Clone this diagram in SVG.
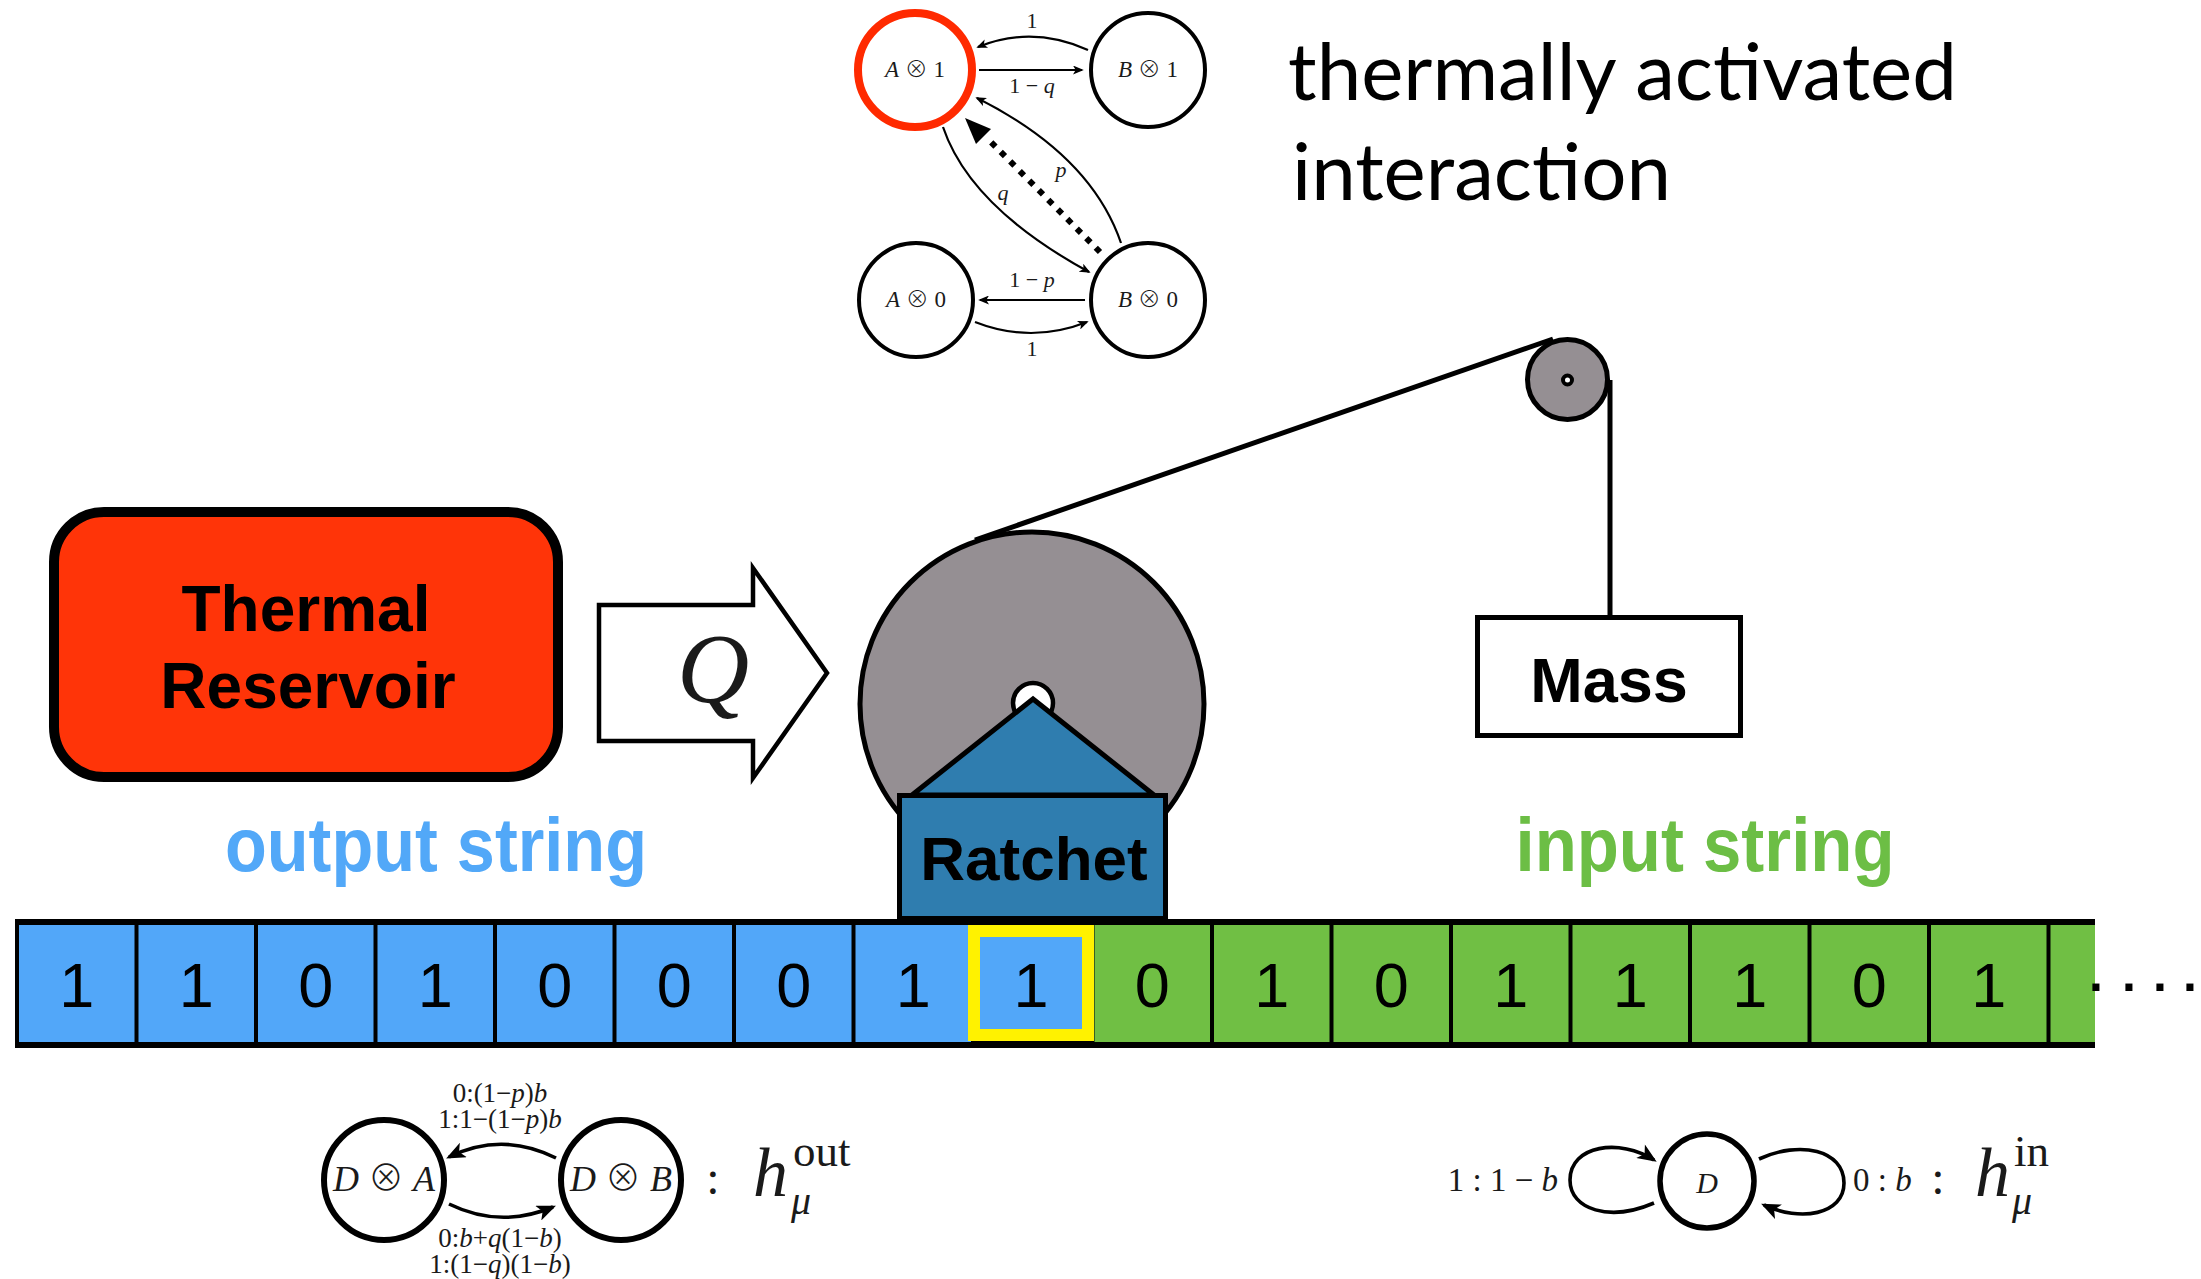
<svg xmlns="http://www.w3.org/2000/svg" width="2201" height="1279" viewBox="0 0 2201 1279">
<defs>
<style>
.math{font-family:"Liberation Serif","DejaVu Serif",serif;fill:#1a1a1a}
.it{font-style:italic}
.op{font-family:"Noto Sans CJK JP","DejaVu Sans",sans-serif;font-weight:300;font-style:normal}
.bold{font-family:"Liberation Sans",Arial,sans-serif;font-weight:bold;fill:#000}
.state{fill:#fff;stroke:#000;stroke-width:4}
.edge{fill:none;stroke:#000;stroke-width:2.2}
.edge2{fill:none;stroke:#000;stroke-width:3.6}
.big{fill:#fff;stroke:#000;stroke-width:6}
.gear{fill:#958f93;stroke:#000;stroke-width:5}
.rope{fill:none;stroke:#000;stroke-width:5}
.blue{fill:#52a7f9}
.green{fill:#70bf44}
.digit{font-family:"Liberation Sans",Arial,sans-serif;font-size:63px;text-anchor:middle;fill:#000}
</style>
<marker id="tip" viewBox="0 0 12 10" refX="10" refY="5" markerWidth="12" markerHeight="9" markerUnits="userSpaceOnUse" orient="auto">
<path d="M0,0 L12,5 L0,10 L3,5 z" fill="#000"/>
</marker>
<marker id="tipL" viewBox="0 0 12 10" refX="10" refY="5" markerWidth="22" markerHeight="16" markerUnits="userSpaceOnUse" orient="auto">
<path d="M0,0 L12,5 L0,10 L3,5 z" fill="#000"/>
</marker>
</defs>

<!-- heading -->
<g id="caption" font-family="Lato,'Open Sans',sans-serif" font-size="80" fill="#000">
<text x="1288" y="100" textLength="669" lengthAdjust="spacingAndGlyphs">thermally activated</text>
<text x="1292" y="200" textLength="379" lengthAdjust="spacingAndGlyphs">interaction</text>
</g>

<!-- ratchet state machine -->
<g id="connectors">
<path class="edge" d="M1088 50 Q1032 25 978 47" marker-end="url(#tip)"/>
<path class="edge" d="M979 70 L1082 70" marker-end="url(#tip)"/>
<path class="edge" d="M1121 243 Q1091 155 977 98" marker-end="url(#tip)"/>
<path class="edge" d="M943 127 Q970 207 1089 272" marker-end="url(#tip)"/>
<path class="edge" d="M1085 300 L980 300" marker-end="url(#tip)"/>
<path class="edge" d="M975 322 Q1031 344 1087 322" marker-end="url(#tip)"/>
<path d="M1100 252 L986 137" fill="none" stroke="#000" stroke-width="6" stroke-dasharray="6 7.5"/>
<polygon points="965,118 991,129 976,144" fill="#000"/>

<!-- rope -->
<line class="rope" x1="975" y1="540" x2="1553" y2="339"/>
<line class="rope" x1="1610" y1="380" x2="1610" y2="617"/>

<!-- output process edges -->
<path class="edge2" d="M556 1158 Q502 1131 449 1157" marker-end="url(#tipL)"/>
<path class="edge2" d="M449 1204 Q500 1229 553 1207" marker-end="url(#tipL)"/>

<!-- input process loops -->
<path class="edge2" d="M1654 1203 C1610 1222 1570 1210 1570 1180 C1570 1145 1620 1138 1654 1160" marker-end="url(#tipL)"/>
<path class="edge2" d="M1759 1159 C1800 1140 1844 1150 1844 1183 C1844 1215 1800 1222 1764 1205" marker-end="url(#tipL)"/>
</g>

<g class="math" font-size="22" text-anchor="middle">
<text x="1032" y="28">1</text>
<text x="1032" y="93">1 − <tspan class="it">q</tspan></text>
<text x="1061" y="177" class="it">p</text>
<text x="1003" y="200" class="it">q</text>
<text x="1032" y="287">1 − <tspan class="it">p</tspan></text>
<text x="1032" y="356">1</text>
</g>

<g id="state-A1">
<circle cx="915" cy="70" r="57" fill="#fff" stroke="#ff2a00" stroke-width="8"/>
<text class="math" x="915" y="77" font-size="23" text-anchor="middle"><tspan class="it">A</tspan> <tspan class="op">⊗</tspan> 1</text>
</g>
<g id="state-B1">
<circle class="state" cx="1148" cy="70" r="57"/>
<text class="math" x="1148" y="77" font-size="23" text-anchor="middle"><tspan class="it">B</tspan> <tspan class="op">⊗</tspan> 1</text>
</g>
<g id="state-A0">
<circle class="state" cx="916" cy="300" r="57"/>
<text class="math" x="916" y="307" font-size="23" text-anchor="middle"><tspan class="it">A</tspan> <tspan class="op">⊗</tspan> 0</text>
</g>
<g id="state-B0">
<circle class="state" cx="1148" cy="300" r="57"/>
<text class="math" x="1148" y="307" font-size="23" text-anchor="middle"><tspan class="it">B</tspan> <tspan class="op">⊗</tspan> 0</text>
</g>

<!-- heat bath -->
<g id="reservoir">
<rect x="54" y="512" width="504" height="265" rx="50" fill="#ff3408" stroke="#000" stroke-width="10"/>
<text class="bold" x="306" y="631" font-size="64" text-anchor="middle">Thermal</text>
<text class="bold" x="308" y="708" font-size="64" text-anchor="middle">Reservoir</text>
</g>

<g id="heat-flow">
<polygon points="599,605 753,605 753,568 827,673 753,778 753,741 599,741" fill="#fff" stroke="#000" stroke-width="4.5"/>
<text class="math it" x="713" y="702" font-size="100" text-anchor="middle" fill="#000">Q</text>
</g>

<!-- wheel and ratchet -->
<g id="wheel">
<circle class="gear" cx="1032" cy="704" r="172"/>
<circle cx="1033" cy="703" r="20" fill="#fff" stroke="#000" stroke-width="4.5"/>
</g>

<g id="pulley">
<circle class="gear" cx="1567.5" cy="379.5" r="40"/>
<circle cx="1567.5" cy="380" r="4.5" fill="#fff" stroke="#000" stroke-width="4"/>
</g>

<g id="mass">
<rect x="1477.5" y="617.5" width="263" height="118" fill="#fff" stroke="#000" stroke-width="5"/>
<text class="bold" x="1609" y="702" font-size="63" text-anchor="middle">Mass</text>
</g>

<g id="ratchet">
<polygon points="1033,699 912,795 1154,795" fill="#2f7daf" stroke="#000" stroke-width="5"/>
<rect x="899.5" y="795.5" width="266" height="123" fill="#2f7daf" stroke="#000" stroke-width="5"/>
<text class="bold" x="1034" y="880" font-size="62" text-anchor="middle">Ratchet</text>
</g>

<g id="string-labels" font-family="'Liberation Sans',Arial,sans-serif" font-weight="bold" font-size="76" text-anchor="middle">
<text x="436" y="871" fill="#52a8f8" textLength="422" lengthAdjust="spacingAndGlyphs">output string</text>
<text x="1705" y="871" fill="#6cbe45" textLength="379" lengthAdjust="spacingAndGlyphs">input string</text>
</g>

<!-- symbol tape -->
<g id="tape">
<rect x="15" y="919" width="2080" height="129" fill="#000"/>
<rect class="blue" x="19" y="925" width="115.5" height="117"/>
<rect class="blue" x="138.5" y="925" width="115.5" height="117"/>
<rect class="blue" x="258" y="925" width="115.5" height="117"/>
<rect class="blue" x="377.5" y="925" width="115.5" height="117"/>
<rect class="blue" x="497" y="925" width="115.5" height="117"/>
<rect class="blue" x="616.5" y="925" width="115.5" height="117"/>
<rect class="blue" x="736" y="925" width="115.5" height="117"/>
<rect class="blue" x="855.5" y="925" width="115.5" height="117"/>
<rect class="green" x="1094.5" y="925" width="115.5" height="117"/>
<rect class="green" x="1214" y="925" width="115.5" height="117"/>
<rect class="green" x="1333.5" y="925" width="115.5" height="117"/>
<rect class="green" x="1453" y="925" width="115.5" height="117"/>
<rect class="green" x="1572.5" y="925" width="115.5" height="117"/>
<rect class="green" x="1692" y="925" width="115.5" height="117"/>
<rect class="green" x="1811.5" y="925" width="115.5" height="117"/>
<rect class="green" x="1931" y="925" width="115.5" height="117"/>
<rect class="green" x="2050.5" y="925" width="44.5" height="117"/>
<rect class="blue" x="974" y="931" width="114" height="104" stroke="#fff200" stroke-width="12"/>
<text class="digit" x="76.75" y="1007">1</text>
<text class="digit" x="196.25" y="1007">1</text>
<text class="digit" x="315.75" y="1007">0</text>
<text class="digit" x="435.25" y="1007">1</text>
<text class="digit" x="554.75" y="1007">0</text>
<text class="digit" x="674.25" y="1007">0</text>
<text class="digit" x="793.75" y="1007">0</text>
<text class="digit" x="913.25" y="1007">1</text>
<text class="digit" x="1031" y="1007">1</text>
<text class="digit" x="1152.25" y="1007">0</text>
<text class="digit" x="1271.75" y="1007">1</text>
<text class="digit" x="1391.25" y="1007">0</text>
<text class="digit" x="1510.75" y="1007">1</text>
<text class="digit" x="1630.25" y="1007">1</text>
<text class="digit" x="1749.75" y="1007">1</text>
<text class="digit" x="1869.25" y="1007">0</text>
<text class="digit" x="1988.75" y="1007">1</text>
<text font-family="'Liberation Sans',Arial,sans-serif" font-weight="bold" font-size="50" x="2089 2122 2153 2183" y="991">....</text>
</g>

<!-- output process machine -->
<g id="out-DA">
<circle class="big" cx="384" cy="1180" r="60"/>
<text class="math" x="384" y="1191" font-size="36" text-anchor="middle"><tspan class="it">D</tspan> <tspan class="op">⊗</tspan> <tspan class="it">A</tspan></text>
</g>
<g id="out-DB">
<circle class="big" cx="621" cy="1180" r="60"/>
<text class="math" x="621" y="1191" font-size="36" text-anchor="middle"><tspan class="it">D</tspan> <tspan class="op">⊗</tspan> <tspan class="it">B</tspan></text>
</g>
<g class="math" font-size="27" text-anchor="middle">
<text x="500" y="1102">0:(1−<tspan class="it">p</tspan>)<tspan class="it">b</tspan></text>
<text x="500" y="1128">1:1−(1−<tspan class="it">p</tspan>)<tspan class="it">b</tspan></text>
<text x="500" y="1247">0:<tspan class="it">b</tspan>+<tspan class="it">q</tspan>(1−<tspan class="it">b</tspan>)</text>
<text x="500" y="1273">1:(1−<tspan class="it">q</tspan>)(1−<tspan class="it">b</tspan>)</text>
</g>
<g id="h-out" class="math" fill="#000">
<text x="713" y="1194" font-size="48" text-anchor="middle">:</text>
<text x="753" y="1196"><tspan font-size="70" class="it">h</tspan><tspan font-size="45" x="793" dy="-30">out</tspan><tspan font-size="40" class="it" x="791" dy="48">μ</tspan></text>
</g>

<!-- input process machine -->
<g id="in-D">
<circle cx="1707" cy="1181" r="47" fill="#fff" stroke="#000" stroke-width="5.5"/>
<text class="math it" x="1707" y="1193" font-size="30" text-anchor="middle">D</text>
</g>
<g class="math" font-size="33">
<text x="1558" y="1191" text-anchor="end">1 : 1 − <tspan class="it">b</tspan></text>
<text x="1853" y="1191">0 : <tspan class="it">b</tspan></text>
</g>
<g id="h-in" class="math" fill="#000">
<text x="1938" y="1194" font-size="48" text-anchor="middle">:</text>
<text x="1975" y="1196"><tspan font-size="70" class="it">h</tspan><tspan font-size="45" x="2014" dy="-30">in</tspan><tspan font-size="40" class="it" x="2012" dy="48">μ</tspan></text>
</g>
</svg>
